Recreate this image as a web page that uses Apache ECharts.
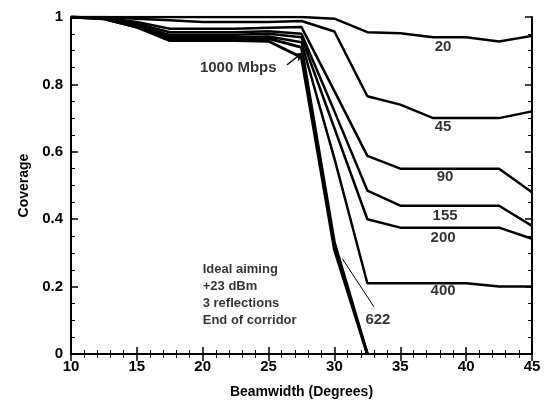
<!DOCTYPE html>
<html>
<head>
<meta charset="utf-8">
<script src="https://cdn.jsdelivr.net/npm/echarts@6/dist/echarts.min.js"></script>
<style>
  html, body { margin: 0; padding: 0; background: #fff; }
  #chart { width: 545px; height: 404px; }
</style>
</head>
<body>
<div id="chart"></div>
<script>
// beamwidth samples (degrees)
const beamwidth = [10, 12.5, 15, 17.5, 20, 22.5, 25, 27.5, 30, 32.5, 35, 37.5, 40, 42.5, 45];

// coverage per data rate (Mbps)
const cov20   = [1, 1, 1, 1, 1, 1, 1, 1, 0.995, 0.955, 0.952, 0.94, 0.94, 0.927, 0.944];
const cov45   = [1, 1, 0.995, 0.99, 0.985, 0.985, 0.985, 0.988, 0.957, 0.765, 0.74, 0.70, 0.70, 0.70, 0.72];
const cov90   = [1, 0.998, 0.985, 0.965, 0.965, 0.965, 0.968, 0.97, 0.78, 0.588, 0.55, 0.55, 0.55, 0.55, 0.48];
const cov155  = [1, 0.998, 0.98, 0.955, 0.955, 0.955, 0.958, 0.95, 0.72, 0.485, 0.44, 0.44, 0.44, 0.44, 0.38];
const cov200  = [1, 0.997, 0.975, 0.947, 0.947, 0.947, 0.95, 0.94, 0.67, 0.40, 0.375, 0.375, 0.375, 0.375, 0.342];
const cov400  = [1, 0.996, 0.972, 0.94, 0.94, 0.94, 0.942, 0.925, 0.58, 0.21, 0.21, 0.21, 0.21, 0.20, 0.20];
const cov622  = [1, 0.995, 0.97, 0.935, 0.935, 0.935, 0.936, 0.91, 0.33, 0, null, null, null, null, null];
const cov1000 = [1, 0.995, 0.97, 0.93, 0.93, 0.93, 0.928, 0.88, 0.31, 0, null, null, null, null, null];

// curve labels: [beamwidth, coverage, text]
const curveLabels = [
  [38.25, 0.912, '20'],
  [38.25, 0.673, '45'],
  [38.4, 0.525, '90'],
  [38.4, 0.41, '155'],
  [38.25, 0.345, '200'],
  [38.25, 0.186, '400'],
  [33.3, 0.10, '622'],
  [22.7, 0.85, '1000 Mbps']
];
const leader622 = [[30.6, 0.283], [33.0, 0.14]];
const arrow1000 = [[26.4, 0.858], [27.6, 0.895]];
const noteAt = [20.0, 0.275];
const noteLines = ['Ideal aiming', '+23 dBm', '3 reflections', 'End of corridor'];

const xTicks = { min: 10, max: 45, interval: 5 };
const yTicks = { min: 0, max: 1, interval: 0.2 };

const chart = echarts.init(document.getElementById('chart'));

const font = 'Liberation Sans, Arial, Helvetica, sans-serif';

function frameAxis(extra, minorSplit) {
  return Object.assign({
    type: 'value',
    axisLine: { show: true, lineStyle: { color: '#000', width: 2 } },
    axisTick: { show: true, inside: true, length: 7, lineStyle: { color: '#000', width: 1.5 } },
    minorTick: { show: true, splitNumber: minorSplit, length: 4, lineStyle: { color: '#000', width: 1 } },
    splitLine: { show: false },
    minorSplitLine: { show: false }
  }, extra);
}

function curve(vals, width) {
  return {
    type: 'line',
    data: beamwidth.map((b, i) => [b, vals[i]]),
    showSymbol: false,
    symbol: 'none',
    connectNulls: false,
    lineStyle: { color: '#000', width: width },
    silent: true
  };
}

chart.setOption({
  animation: false,
  backgroundColor: '#fff',
  grid: { left: 71, right: 13, top: 17, bottom: 48, containLabel: false },
  xAxis: [
    frameAxis({
      position: 'bottom', min: xTicks.min, max: xTicks.max, interval: xTicks.interval,
      axisLabel: { color: '#000', fontSize: 15, fontWeight: 'bold', fontFamily: font, margin: 5 },
      name: 'Beamwidth (Degrees)', nameLocation: 'middle', nameGap: 31,
      nameTextStyle: { color: '#000', fontSize: 14, fontWeight: 'bold', fontFamily: font }
    }, 5),
    frameAxis({
      position: 'top', min: xTicks.min, max: xTicks.max, interval: xTicks.interval,
      axisLabel: { show: false }
    }, 5)
  ],
  yAxis: [
    frameAxis({
      position: 'left', min: yTicks.min, max: yTicks.max, interval: yTicks.interval,
      axisLabel: { color: '#000', fontSize: 15, fontWeight: 'bold', fontFamily: font, margin: 8 },
      name: 'Coverage', nameLocation: 'middle', nameGap: 37, nameRotate: 90,
      nameTextStyle: { color: '#000', fontSize: 14, fontWeight: 'bold', fontFamily: font }
    }, 4),
    frameAxis({
      position: 'right', min: yTicks.min, max: yTicks.max, interval: yTicks.interval,
      axisLabel: { show: false }
    }, 4)
  ],
  series: [
    curve(cov20, 2.5),
    curve(cov45, 2.5),
    curve(cov90, 2.5),
    curve(cov155, 2.5),
    curve(cov200, 2.5),
    curve(cov400, 2.5),
    curve(cov622, 3),
    curve(cov1000, 3),
    {
      type: 'line',
      data: leader622,
      symbol: 'none',
      lineStyle: { color: '#000', width: 1 },
      silent: true
    },
    {
      type: 'line',
      data: arrow1000,
      symbol: 'none',
      lineStyle: { color: '#000', width: 1.2 },
      silent: true,
      markLine: {
        silent: true,
        symbol: ['none', 'arrow'],
        symbolSize: [7, 9],
        lineStyle: { color: '#000', width: 1.2, type: 'solid' },
        label: { show: false },
        data: [[{ coord: arrow1000[0] }, { coord: arrow1000[1] }]]
      }
    },
    {
      type: 'scatter',
      data: curveLabels.map(d => [d[0], d[1], d[2]]),
      symbolSize: 0,
      silent: true,
      label: {
        show: true,
        position: 'inside',
        formatter: p => p.value[2],
        color: '#000',
        fontSize: 15,
        fontWeight: 'bold',
        fontFamily: font
      }
    },
    {
      type: 'scatter',
      data: [noteAt],
      symbolSize: 0,
      silent: true,
      label: {
        show: true,
        position: 'inside',
        align: 'left',
        verticalAlign: 'top',
        formatter: noteLines.join('\n'),
        lineHeight: 17,
        color: '#000',
        fontSize: 13,
        fontWeight: 'bold',
        fontFamily: font
      }
    }
  ]
});
</script>
</body>
</html>
